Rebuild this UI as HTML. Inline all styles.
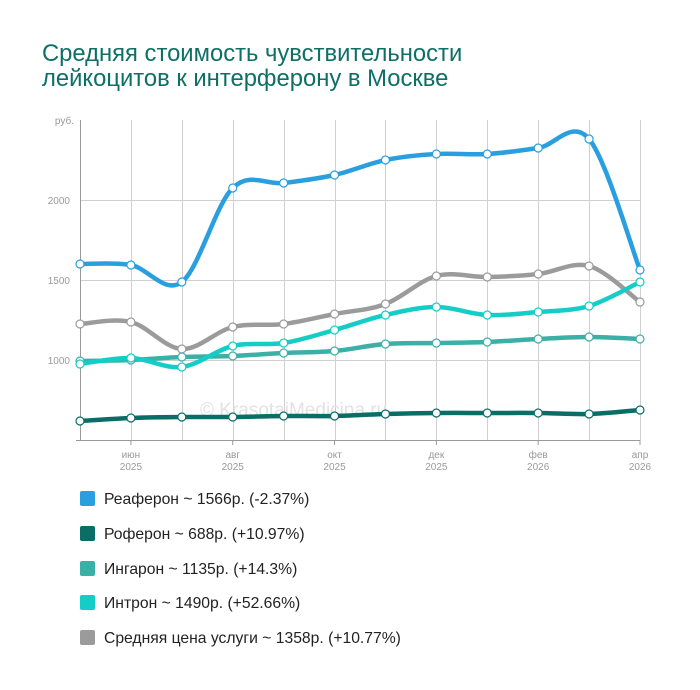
<!DOCTYPE html>
<html><head><meta charset="utf-8"><style>
body{margin:0;background:#fff;width:700px;height:685px;overflow:hidden;font-family:"Liberation Sans",sans-serif}
</style></head><body>
<svg width="700" height="685" xmlns="http://www.w3.org/2000/svg" font-family="Liberation Sans, sans-serif">
<text x="42" y="61" font-size="23.8" fill="#0e6f66">Средняя стоимость чувствительности</text>
<text x="42" y="86" font-size="23.8" fill="#0e6f66">лейкоцитов к интерферону в Москве</text>
<g id="grid" stroke="#d0d0d0" stroke-width="1"></g>
<text x="200" y="416" font-size="19" fill="#e2e2e2">© KrasotaiMedicina.ru</text>
<line x1="80.5" y1="120" x2="80.5" y2="440" stroke="#999"/>
<line x1="76" y1="440.5" x2="640" y2="440.5" stroke="#999"/>
<text x="74" y="124" font-size="10" fill="#999" text-anchor="end">руб.</text>
<text x="70" y="204" font-size="10" fill="#999" text-anchor="end">2000</text>
<text x="70" y="284" font-size="10" fill="#999" text-anchor="end">1500</text>
<text x="70" y="364" font-size="10" fill="#999" text-anchor="end">1000</text>
<g id="xl" font-size="10" fill="#999" text-anchor="middle"></g>
<g id="series"></g>
<g font-size="15.7" fill="#222">
<rect x="80" y="491" width="15" height="15" rx="2" fill="#2a9fe0"/><text x="104" y="504">Реаферон ~ 1566р. (-2.37%)</text>
<rect x="80" y="526" width="15" height="15" rx="2" fill="#0b6e66"/><text x="104" y="539">Роферон ~ 688р. (+10.97%)</text>
<rect x="80" y="561" width="15" height="15" rx="2" fill="#3ab0a6"/><text x="104" y="574">Ингарон ~ 1135р. (+14.3%)</text>
<rect x="80" y="595" width="15" height="15" rx="2" fill="#14cdc6"/><text x="104" y="608">Интрон ~ 1490р. (+52.66%)</text>
<rect x="80" y="630" width="15" height="15" rx="2" fill="#9b9b9b"/><text x="104" y="643">Средняя цена услуги ~ 1358р. (+10.77%)</text>
</g>
</svg>
<script>
var NS="http://www.w3.org/2000/svg";
var xs=[];for(var i=0;i<12;i++)xs.push(80+i*560/11);
var g=document.getElementById('grid');
function el(t,a,p){var e=document.createElementNS(NS,t);for(var k in a)e.setAttribute(k,a[k]);p.appendChild(e);return e;}
for(var i=1;i<12;i++)el('line',{x1:Math.round(xs[i])+.5,y1:120,x2:Math.round(xs[i])+.5,y2:440},g);
[200,280,360].forEach(function(y){el('line',{x1:80,y1:y+.5,x2:640,y2:y+.5},g)});
var xl=document.getElementById('xl');
var lab=[[1,'июн','2025'],[3,'авг','2025'],[5,'окт','2025'],[7,'дек','2025'],[9,'фев','2026'],[11,'апр','2026']];
lab.forEach(function(l){var x=xs[l[0]];el('line',{x1:x,y1:440,x2:x,y2:445,stroke:'#999'},xl);
var t=el('text',{x:x,y:458},xl);t.textContent=l[1];var t2=el('text',{x:x,y:470},xl);t2.textContent=l[2];});
var S=[
['#9b9b9b',[324,322,349,327,324,314,304,276,277,274,266,302]],
['#2a9fe0',[264,265,282,188,183,175,160,154,154,148,139,270]],
['#3ab0a6',[361,360,357,356,353,351,344,343,342,339,337,339]],
['#14cdc6',[364,358,367,346,343,330,315,307,315,312,306,282]],
['#0b6e66',[421,418,417,417,416,416,414,413,413,413,414,410]]];
var sg=document.getElementById('series');
S.forEach(function(s){var y=s[1],d='M'+xs[0]+','+y[0];
for(var i=0;i<11;i++){var p0=i?i-1:0,p3=i+2<12?i+2:11;
var c1x=xs[i]+(xs[i+1]-xs[p0])/6,c1y=y[i]+(y[i+1]-y[p0])/6,c2x=xs[i+1]-(xs[p3]-xs[i])/6,c2y=y[i+1]-(y[p3]-y[i])/6;
d+=' C'+c1x+','+c1y+' '+c2x+','+c2y+' '+xs[i+1]+','+y[i+1];}
el('path',{d:d,fill:'none',stroke:s[0],'stroke-width':4.5,'stroke-linecap':'round'},sg);
y.forEach(function(v,i){el('circle',{cx:xs[i],cy:v,r:4,fill:'#fff',stroke:s[0],'stroke-width':1.2},sg)});});
</script>
</body></html>
